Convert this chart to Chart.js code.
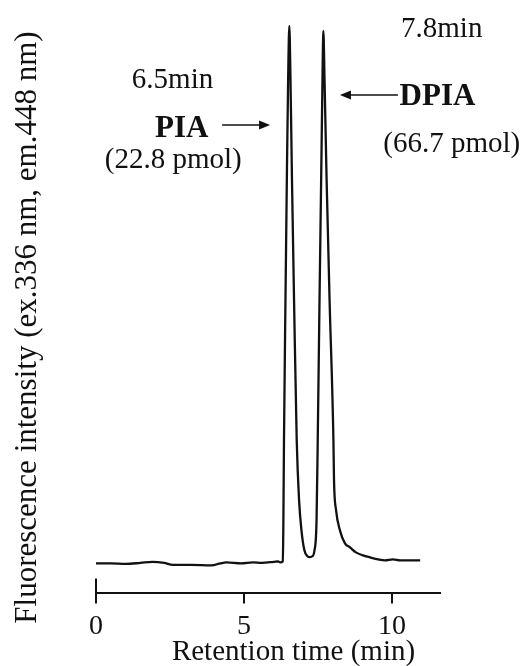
<!DOCTYPE html>
<html>
<head>
<meta charset="utf-8">
<script src="https://cdn.jsdelivr.net/npm/chart.js@4.4.1/dist/chart.umd.min.js"></script>
<style>
  html, body { margin: 0; padding: 0; background: #fff; }
  #wrap { width: 523px; height: 666px; position: relative; }
</style>
</head>
<body>
<div id="wrap"><canvas id="c" width="523" height="666"></canvas></div>
<script>
// Retention time (min)
const retentionTime = [
  0, 0.5, 1.0, 1.5, 1.9, 2.3, 2.6, 3.2, 3.9, 4.2, 4.4, 4.9, 5.3, 5.6, 6.0, 6.15,
  6.22, 6.31, 6.33, 6.35, 6.40, 6.45, 6.49, 6.53, 6.57, 6.62, 6.69, 6.78, 6.86, 6.94,
  7.04, 7.13, 7.20, 7.30, 7.38, 7.45, 7.49, 7.55, 7.61, 7.65, 7.68, 7.72, 7.79, 7.89,
  8.02, 8.04, 8.11, 8.24, 8.41, 8.58, 8.78, 9.02, 9.26, 9.53, 9.76, 10.03, 10.27, 10.61, 10.95
];
// Fluorescence intensity (arbitrary units)
const intensity = [
  0, 0, -0.5, 0.5, 1.5, 0.5, -1.5, -1.5, -2, 0, 1, 0, 1, 0.5, 1.5, 2,
  1, 2, 43, 123, 263, 393, 483, 537, 483, 383, 263, 123, 63, 33,
  13, 7.5, 6.3, 7, 13, 43, 123, 263, 393, 483, 532, 483, 383, 263,
  123, 83, 53, 33, 20, 16, 11, 8, 6, 4, 3, 4, 3, 3, 3
];
const xTickValues = [0, 5, 10];
const xTitle = "Retention time (min)";
const yTitle = "Fluorescence intensity (ex.336 nm, em.448 nm)";
const peakTimes = ["6.5min", "7.8min"];
const peakNames = ["PIA", "DPIA"];
const peakAmounts = ["(22.8 pmol)", "(66.7 pmol)"];

const points = retentionTime.map((t, i) => ({ x: t, y: intensity[i] }));
const SERIF = "'Liberation Serif', 'Times New Roman', serif";
const INK = "#111";

const decor = {
  id: 'decor',
  afterDraw(chart) {
    const ctx = chart.ctx;
    const xs = chart.scales.x, ys = chart.scales.y;
    ctx.save();
    ctx.fillStyle = INK;
    ctx.strokeStyle = INK;
    // upward extension of the zero tick
    const x0 = xs.getPixelForValue(0);
    ctx.lineWidth = 2;
    ctx.beginPath();
    ctx.moveTo(x0, xs.top);
    ctx.lineTo(x0, xs.top - 15);
    ctx.stroke();

    // axis titles
    ctx.textAlign = 'center';
    ctx.textBaseline = 'alphabetic';
    ctx.font = "29px " + SERIF;
    ctx.fillText(xTitle, 293.5, 660);
    ctx.save();
    ctx.translate(36, 327.5);
    ctx.rotate(-Math.PI / 2);
    ctx.font = "31px " + SERIF;
    ctx.fillText(yTitle, 0, 0);
    ctx.restore();

    // annotations
    ctx.font = "29px " + SERIF;
    ctx.fillText(peakTimes[0], 172.5, 88);
    ctx.fillText(peakAmounts[0], 173.3, 168);
    ctx.fillText(peakTimes[1], 441.7, 36.7);
    ctx.fillText(peakAmounts[1], 451.7, 152);
    ctx.font = "bold 31px " + SERIF;
    ctx.fillText(peakNames[0], 181.7, 136.7);
    ctx.fillText(peakNames[1], 437.5, 105);

    // arrows (data coordinates)
    function arrow(tFrom, tTo, v) {
      const a = xs.getPixelForValue(tFrom), b = xs.getPixelForValue(tTo);
      const y = ys.getPixelForValue(v);
      const dir = Math.sign(b - a);
      ctx.lineWidth = 1.6;
      ctx.beginPath();
      ctx.moveTo(a, y);
      ctx.lineTo(b - dir * 8, y);
      ctx.stroke();
      ctx.beginPath();
      ctx.moveTo(b, y);
      ctx.lineTo(b - dir * 11, y - 4.5);
      ctx.lineTo(b - dir * 11, y + 4.5);
      ctx.closePath();
      ctx.fill();
    }
    arrow(4.26, 5.88, 438);
    arrow(10.2, 8.24, 468);
    ctx.restore();
  }
};

new Chart(document.getElementById('c'), {
  type: 'line',
  data: {
    datasets: [{
      data: points,
      borderColor: '#111',
      borderWidth: 2.3,
      pointRadius: 0,
      cubicInterpolationMode: 'monotone',
      fill: false,
      clip: false
    }]
  },
  options: {
    responsive: false,
    animation: false,
    events: [],
    layout: { padding: { left: 96, right: 83, top: 20, bottom: 17 } },
    plugins: { legend: { display: false }, tooltip: { enabled: false } },
    scales: {
      x: {
        type: 'linear',
        min: 0,
        max: 11.62,
        offset: false,
        border: { display: true, color: INK, width: 2 },
        grid: { display: true, drawOnChartArea: false, drawTicks: true, tickLength: 10, color: INK, lineWidth: 2 },
        afterBuildTicks(scale) { scale.ticks = xTickValues.map(v => ({ value: v })); },
        ticks: {
          includeBounds: false,
          autoSkip: false,
          maxRotation: 0,
          color: INK,
          padding: 6,
          font: { family: SERIF, size: 28 },
          callback: v => String(v)
        }
      },
      y: {
        type: 'linear',
        display: false,
        min: -30,
        max: 543
      }
    }
  },
  plugins: [decor]
});
</script>
</body>
</html>
